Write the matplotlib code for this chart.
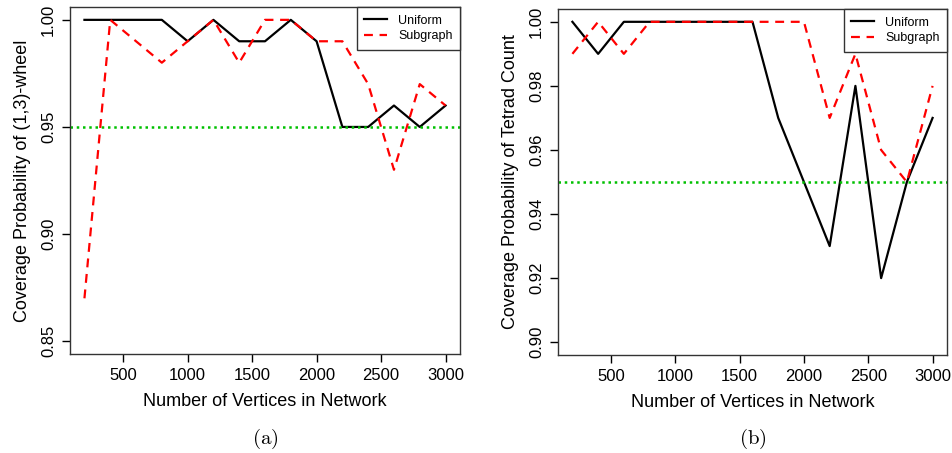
import matplotlib
matplotlib.use("Agg")
import matplotlib.pyplot as plt
import numpy as np

plt.rcParams['font.family'] = ['Liberation Sans', 'DejaVu Sans']
plt.rcParams['mathtext.fontset'] = 'cm'

vertices = [200, 400, 600, 800, 1000, 1200, 1400, 1600, 1800, 2000, 2200, 2400, 2600, 2800, 3000]

wheel_uniform = [1.00, 1.00, 1.00, 1.00, 0.99, 1.00, 0.99, 0.99, 1.00, 0.99, 0.95, 0.95, 0.96, 0.95, 0.96]
wheel_subgraph = [0.87, 1.00, 0.99, 0.98, 0.99, 1.00, 0.98, 1.00, 1.00, 0.99, 0.99, 0.97, 0.93, 0.97, 0.96]

tetrad_uniform = [1.00, 0.99, 1.00, 1.00, 1.00, 1.00, 1.00, 1.00, 0.97, 0.95, 0.93, 0.98, 0.92, 0.95, 0.97]
tetrad_subgraph = [0.99, 1.00, 0.99, 1.00, 1.00, 1.00, 1.00, 1.00, 1.00, 1.00, 0.97, 0.99, 0.96, 0.95, 0.98]

nominal = 0.95
x_ticks = [500, 1000, 1500, 2000, 2500, 3000]
yticks_a = [0.85, 0.90, 0.95, 1.00]
yticks_b = [0.90, 0.92, 0.94, 0.96, 0.98, 1.00]

W, H = 953, 453
fig = plt.figure(figsize=(W / 100, H / 100), dpi=100)


def rect(x0, y0, x1, y1):
    return [x0 / W, 1 - y1 / H, (x1 - x0) / W, (y1 - y0) / H]


def rpad(lo, hi):
    d = (hi - lo) * 0.04
    return lo - d, hi + d


panels = [
    (rect(70, 7, 460, 354), wheel_uniform, wheel_subgraph, yticks_a,
     "Coverage Probability of (1,3)-wheel", r"$\mathrm{(a)}$"),
    (rect(558, 9, 947, 355), tetrad_uniform, tetrad_subgraph, yticks_b,
     "Coverage Probability of Tetrad Count", r"$\mathrm{(b)}$"),
]

for r, uni, sub, yt, ylab, tag in panels:
    ax = fig.add_axes(r)
    ax.plot(vertices, uni, color='black', lw=1.6, label='Uniform')
    ax.plot(vertices, sub, color='#ff0000', lw=1.6, ls=(0, (4, 3)), label='Subgraph')
    ax.axhline(nominal, color='#00c000', lw=1.8, ls=(0, (1, 1.5)))
    ax.set_xlim(*rpad(min(vertices), max(vertices)))
    ax.set_ylim(*rpad(yt[0], yt[-1]))
    ax.set_xticks(x_ticks)
    ax.set_yticks(yt)
    ax.set_yticklabels([f"{v:.2f}" for v in yt], rotation=90, va='center')
    ax.tick_params(direction='out', length=6, width=1, labelsize=12, pad=4)
    for s in ax.spines.values():
        s.set_linewidth(1.0)
        s.set_color('#333333')
    ax.set_xlabel("Number of Vertices in Network", fontsize=13, labelpad=7)
    ax.set_ylabel(ylab, fontsize=13, labelpad=7)
    leg = ax.legend(loc='upper right', borderaxespad=0, fontsize=9, fancybox=False,
                    edgecolor='#333333', framealpha=1, handlelength=1.8,
                    borderpad=0.6, labelspacing=0.3, handletextpad=0.9)
    leg.get_frame().set_linewidth(1.0)
    cx = r[0] + r[2] / 2
    fig.text(cx, 1 - 439 / H, tag, ha='center', va='center', fontsize=15)

fig.savefig("out.png", dpi=100)
